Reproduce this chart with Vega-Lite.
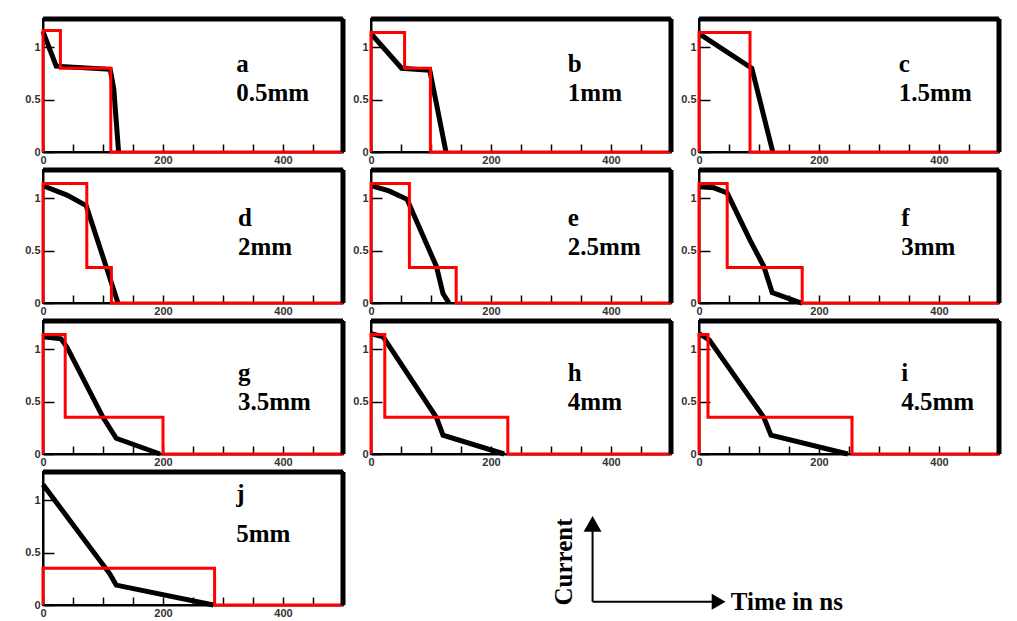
{
  "$schema": "https://vega.github.io/schema/vega-lite/v6.json",
  "background": "white",
  "padding": {"left": 20, "top": 15, "right": 0, "bottom": 0},
  "config": {
    "view": {"stroke": "black", "strokeWidth": 2},
    "axis": {"domainColor": "black", "domainWidth": 2, "tickColor": "black", "tickWidth": 1.5, "grid": false, "labelFont": "Liberation Sans", "labelFontSize": 11, "labelFontWeight": "bold", "labelColor": "#333", "labelFlush": false, "labelOverlap": false, "labelBound": false, "title": null},
    "axisX": {"values": [0, 50, 100, 150, 200, 250, 300, 350, 400, 450, 500], "labelExpr": "datum.value === 0 || datum.value === 200 || datum.value === 400 ? datum.label : ''", "tickSize": -8, "labelPadding": 10, "minExtent": 9, "maxExtent": 9, "encode": {"ticks": {"update": {"y2": {"signal": "datum.value % 200 === 0 ? -14 : -8"}}}}},
    "axisY": {"values": [0, 0.1, 0.2, 0.3, 0.4, 0.5, 0.6, 0.7, 0.8, 0.9, 1, 1.1, 1.2], "labelExpr": "datum.value === 0 ? '0' : datum.value === 0.5 ? '0.5' : datum.value === 1 ? '1' : ''", "tickSize": -11, "labelPadding": 14, "minExtent": 20, "maxExtent": 20, "encode": {"ticks": {"update": {"x2": {"signal": "(datum.value === 0 || datum.value === 0.5 || datum.value === 1) ? 22 : 11"}}}}}
  },
  "datasets": {
    "labels": [
      {"panel": "a", "letter": "a", "thickness": "0.5mm"},
      {"panel": "b", "letter": "b", "thickness": "1mm"},
      {"panel": "c", "letter": "c", "thickness": "1.5mm"},
      {"panel": "d", "letter": "d", "thickness": "2mm"},
      {"panel": "e", "letter": "e", "thickness": "2.5mm"},
      {"panel": "f", "letter": "f", "thickness": "3mm"},
      {"panel": "g", "letter": "g", "thickness": "3.5mm"},
      {"panel": "h", "letter": "h", "thickness": "4mm"},
      {"panel": "i", "letter": "i", "thickness": "4.5mm"},
      {"panel": "j", "letter": "j", "thickness": "5mm"}
    ],
    "curves": [
      {"panel": "a", "series": "signal", "i": 0, "time": 0, "current": 1.15},
      {"panel": "a", "series": "signal", "i": 1, "time": 22, "current": 0.82},
      {"panel": "a", "series": "signal", "i": 2, "time": 112, "current": 0.79},
      {"panel": "a", "series": "signal", "i": 3, "time": 118, "current": 0.6},
      {"panel": "a", "series": "signal", "i": 4, "time": 126, "current": 0},
      {"panel": "a", "series": "step", "i": 0, "time": 0, "current": 0},
      {"panel": "a", "series": "step", "i": 1, "time": 0, "current": 1.16},
      {"panel": "a", "series": "step", "i": 2, "time": 29, "current": 1.16},
      {"panel": "a", "series": "step", "i": 3, "time": 29, "current": 0.8},
      {"panel": "a", "series": "step", "i": 4, "time": 113, "current": 0.8},
      {"panel": "a", "series": "step", "i": 5, "time": 113, "current": 0},
      {"panel": "a", "series": "step", "i": 6, "time": 500, "current": 0},

      {"panel": "b", "series": "signal", "i": 0, "time": 0, "current": 1.13},
      {"panel": "b", "series": "signal", "i": 1, "time": 51, "current": 0.8},
      {"panel": "b", "series": "signal", "i": 2, "time": 98, "current": 0.78},
      {"panel": "b", "series": "signal", "i": 3, "time": 125, "current": 0},
      {"panel": "b", "series": "step", "i": 0, "time": 0, "current": 0},
      {"panel": "b", "series": "step", "i": 1, "time": 0, "current": 1.14},
      {"panel": "b", "series": "step", "i": 2, "time": 56, "current": 1.14},
      {"panel": "b", "series": "step", "i": 3, "time": 56, "current": 0.8},
      {"panel": "b", "series": "step", "i": 4, "time": 99, "current": 0.8},
      {"panel": "b", "series": "step", "i": 5, "time": 99, "current": 0},
      {"panel": "b", "series": "step", "i": 6, "time": 500, "current": 0},

      {"panel": "c", "series": "signal", "i": 0, "time": 0, "current": 1.13},
      {"panel": "c", "series": "signal", "i": 1, "time": 88, "current": 0.8},
      {"panel": "c", "series": "signal", "i": 2, "time": 123, "current": 0},
      {"panel": "c", "series": "step", "i": 0, "time": 0, "current": 0},
      {"panel": "c", "series": "step", "i": 1, "time": 0, "current": 1.14},
      {"panel": "c", "series": "step", "i": 2, "time": 85, "current": 1.14},
      {"panel": "c", "series": "step", "i": 3, "time": 85, "current": 0},
      {"panel": "c", "series": "step", "i": 4, "time": 500, "current": 0},

      {"panel": "d", "series": "signal", "i": 0, "time": 0, "current": 1.12},
      {"panel": "d", "series": "signal", "i": 1, "time": 40, "current": 1.03},
      {"panel": "d", "series": "signal", "i": 2, "time": 72, "current": 0.93},
      {"panel": "d", "series": "signal", "i": 3, "time": 125, "current": 0},
      {"panel": "d", "series": "step", "i": 0, "time": 0, "current": 0},
      {"panel": "d", "series": "step", "i": 1, "time": 0, "current": 1.14},
      {"panel": "d", "series": "step", "i": 2, "time": 73, "current": 1.14},
      {"panel": "d", "series": "step", "i": 3, "time": 73, "current": 0.34},
      {"panel": "d", "series": "step", "i": 4, "time": 114, "current": 0.34},
      {"panel": "d", "series": "step", "i": 5, "time": 114, "current": 0},
      {"panel": "d", "series": "step", "i": 6, "time": 500, "current": 0},

      {"panel": "e", "series": "signal", "i": 0, "time": 0, "current": 1.12},
      {"panel": "e", "series": "signal", "i": 1, "time": 30, "current": 1.07},
      {"panel": "e", "series": "signal", "i": 2, "time": 60, "current": 0.99},
      {"panel": "e", "series": "signal", "i": 3, "time": 109, "current": 0.35},
      {"panel": "e", "series": "signal", "i": 4, "time": 120, "current": 0.09},
      {"panel": "e", "series": "signal", "i": 5, "time": 130, "current": 0},
      {"panel": "e", "series": "step", "i": 0, "time": 0, "current": 0},
      {"panel": "e", "series": "step", "i": 1, "time": 0, "current": 1.14},
      {"panel": "e", "series": "step", "i": 2, "time": 64, "current": 1.14},
      {"panel": "e", "series": "step", "i": 3, "time": 64, "current": 0.34},
      {"panel": "e", "series": "step", "i": 4, "time": 142, "current": 0.34},
      {"panel": "e", "series": "step", "i": 5, "time": 142, "current": 0},
      {"panel": "e", "series": "step", "i": 6, "time": 500, "current": 0},

      {"panel": "f", "series": "signal", "i": 0, "time": 0, "current": 1.11},
      {"panel": "f", "series": "signal", "i": 1, "time": 25, "current": 1.1},
      {"panel": "f", "series": "signal", "i": 2, "time": 47, "current": 1.05},
      {"panel": "f", "series": "signal", "i": 3, "time": 85, "current": 0.6},
      {"panel": "f", "series": "signal", "i": 4, "time": 108, "current": 0.35},
      {"panel": "f", "series": "signal", "i": 5, "time": 122, "current": 0.1},
      {"panel": "f", "series": "signal", "i": 6, "time": 165, "current": 0.01},
      {"panel": "f", "series": "signal", "i": 7, "time": 172, "current": 0},
      {"panel": "f", "series": "step", "i": 0, "time": 0, "current": 0},
      {"panel": "f", "series": "step", "i": 1, "time": 0, "current": 1.14},
      {"panel": "f", "series": "step", "i": 2, "time": 47, "current": 1.14},
      {"panel": "f", "series": "step", "i": 3, "time": 47, "current": 0.34},
      {"panel": "f", "series": "step", "i": 4, "time": 172, "current": 0.34},
      {"panel": "f", "series": "step", "i": 5, "time": 172, "current": 0},
      {"panel": "f", "series": "step", "i": 6, "time": 500, "current": 0},

      {"panel": "g", "series": "signal", "i": 0, "time": 0, "current": 1.12},
      {"panel": "g", "series": "signal", "i": 1, "time": 30, "current": 1.1},
      {"panel": "g", "series": "signal", "i": 2, "time": 40, "current": 1.02},
      {"panel": "g", "series": "signal", "i": 3, "time": 100, "current": 0.35},
      {"panel": "g", "series": "signal", "i": 4, "time": 122, "current": 0.15},
      {"panel": "g", "series": "signal", "i": 5, "time": 195, "current": 0},
      {"panel": "g", "series": "step", "i": 0, "time": 0, "current": 0},
      {"panel": "g", "series": "step", "i": 1, "time": 0, "current": 1.14},
      {"panel": "g", "series": "step", "i": 2, "time": 37, "current": 1.14},
      {"panel": "g", "series": "step", "i": 3, "time": 37, "current": 0.35},
      {"panel": "g", "series": "step", "i": 4, "time": 200, "current": 0.35},
      {"panel": "g", "series": "step", "i": 5, "time": 200, "current": 0},
      {"panel": "g", "series": "step", "i": 6, "time": 500, "current": 0},

      {"panel": "h", "series": "signal", "i": 0, "time": 0, "current": 1.15},
      {"panel": "h", "series": "signal", "i": 1, "time": 20, "current": 1.12},
      {"panel": "h", "series": "signal", "i": 2, "time": 109, "current": 0.35},
      {"panel": "h", "series": "signal", "i": 3, "time": 120, "current": 0.18},
      {"panel": "h", "series": "signal", "i": 4, "time": 222, "current": 0},
      {"panel": "h", "series": "step", "i": 0, "time": 0, "current": 0},
      {"panel": "h", "series": "step", "i": 1, "time": 0, "current": 1.14},
      {"panel": "h", "series": "step", "i": 2, "time": 23, "current": 1.14},
      {"panel": "h", "series": "step", "i": 3, "time": 23, "current": 0.35},
      {"panel": "h", "series": "step", "i": 4, "time": 228, "current": 0.35},
      {"panel": "h", "series": "step", "i": 5, "time": 228, "current": 0},
      {"panel": "h", "series": "step", "i": 6, "time": 500, "current": 0},

      {"panel": "i", "series": "signal", "i": 0, "time": 0, "current": 1.15},
      {"panel": "i", "series": "signal", "i": 1, "time": 17, "current": 1.09},
      {"panel": "i", "series": "signal", "i": 2, "time": 108, "current": 0.35},
      {"panel": "i", "series": "signal", "i": 3, "time": 120, "current": 0.18},
      {"panel": "i", "series": "signal", "i": 4, "time": 248, "current": 0},
      {"panel": "i", "series": "step", "i": 0, "time": 0, "current": 0},
      {"panel": "i", "series": "step", "i": 1, "time": 0, "current": 1.14},
      {"panel": "i", "series": "step", "i": 2, "time": 15, "current": 1.14},
      {"panel": "i", "series": "step", "i": 3, "time": 15, "current": 0.35},
      {"panel": "i", "series": "step", "i": 4, "time": 255, "current": 0.35},
      {"panel": "i", "series": "step", "i": 5, "time": 255, "current": 0},
      {"panel": "i", "series": "step", "i": 6, "time": 500, "current": 0},

      {"panel": "j", "series": "signal", "i": 0, "time": 0, "current": 1.15},
      {"panel": "j", "series": "signal", "i": 1, "time": 111, "current": 0.3},
      {"panel": "j", "series": "signal", "i": 2, "time": 122, "current": 0.19},
      {"panel": "j", "series": "signal", "i": 3, "time": 284, "current": 0},
      {"panel": "j", "series": "step", "i": 0, "time": 0, "current": 0},
      {"panel": "j", "series": "step", "i": 1, "time": 0, "current": 0.35},
      {"panel": "j", "series": "step", "i": 2, "time": 286, "current": 0.35},
      {"panel": "j", "series": "step", "i": 3, "time": 286, "current": 0},
      {"panel": "j", "series": "step", "i": 4, "time": 500, "current": 0}
    ]
  },
  "spacing": 0,
  "vconcat": [
    {"spacing": 0, "hconcat": [
      {"width": 300, "height": 133, "layer": [
        {"data": {"name": "curves"}, "transform": [{"filter": "datum.panel === 'a' && datum.series === 'signal'"}], "mark": {"type": "line", "color": "black", "strokeWidth": 5}, "encoding": {"x": {"field": "time", "type": "quantitative", "scale": {"domain": [0, 500], "nice": false}}, "y": {"field": "current", "type": "quantitative", "scale": {"domain": [0, 1.27], "nice": false}, "axis": {"minExtent": 22, "maxExtent": 22}}, "order": {"field": "i", "type": "quantitative"}}},
        {"data": {"name": "curves"}, "transform": [{"filter": "datum.panel === 'a' && datum.series === 'step'"}], "mark": {"type": "line", "color": "#ff0000", "strokeWidth": 3}, "encoding": {"x": {"field": "time", "type": "quantitative"}, "y": {"field": "current", "type": "quantitative"}, "order": {"field": "i", "type": "quantitative"}}},
        {"data": {"values": [{}]}, "mark": {"type": "rule", "color": "black", "strokeWidth": 5}, "encoding": {"y": {"datum": 1.27}}},
        {"data": {"values": [{}]}, "mark": {"type": "rule", "color": "black", "strokeWidth": 5}, "encoding": {"x": {"datum": 500}}},
        {"data": {"name": "labels"}, "transform": [{"filter": "datum.panel === 'a'"}], "mark": {"type": "text", "font": "Liberation Serif", "fontWeight": "bold", "fontSize": 25, "align": "left", "baseline": "alphabetic", "color": "black"}, "encoding": {"x": {"datum": 322}, "y": {"datum": 0.76}, "text": {"field": "letter"}}},
        {"data": {"name": "labels"}, "transform": [{"filter": "datum.panel === 'a'"}], "mark": {"type": "text", "font": "Liberation Serif", "fontWeight": "bold", "fontSize": 25, "align": "left", "baseline": "alphabetic", "color": "black"}, "encoding": {"x": {"datum": 322}, "y": {"datum": 0.49}, "text": {"field": "thickness"}}}
      ]},
      {"width": 300, "height": 133, "layer": [
        {"data": {"name": "curves"}, "transform": [{"filter": "datum.panel === 'b' && datum.series === 'signal'"}], "mark": {"type": "line", "color": "black", "strokeWidth": 5}, "encoding": {"x": {"field": "time", "type": "quantitative", "scale": {"domain": [0, 500], "nice": false}}, "y": {"field": "current", "type": "quantitative", "scale": {"domain": [0, 1.27], "nice": false}}, "order": {"field": "i", "type": "quantitative"}}},
        {"data": {"name": "curves"}, "transform": [{"filter": "datum.panel === 'b' && datum.series === 'step'"}], "mark": {"type": "line", "color": "#ff0000", "strokeWidth": 3}, "encoding": {"x": {"field": "time", "type": "quantitative"}, "y": {"field": "current", "type": "quantitative"}, "order": {"field": "i", "type": "quantitative"}}},
        {"data": {"values": [{}]}, "mark": {"type": "rule", "color": "black", "strokeWidth": 5}, "encoding": {"y": {"datum": 1.27}}},
        {"data": {"values": [{}]}, "mark": {"type": "rule", "color": "black", "strokeWidth": 5}, "encoding": {"x": {"datum": 500}}},
        {"data": {"name": "labels"}, "transform": [{"filter": "datum.panel === 'b'"}], "mark": {"type": "text", "font": "Liberation Serif", "fontWeight": "bold", "fontSize": 25, "align": "left", "baseline": "alphabetic", "color": "black"}, "encoding": {"x": {"datum": 328}, "y": {"datum": 0.76}, "text": {"field": "letter"}}},
        {"data": {"name": "labels"}, "transform": [{"filter": "datum.panel === 'b'"}], "mark": {"type": "text", "font": "Liberation Serif", "fontWeight": "bold", "fontSize": 25, "align": "left", "baseline": "alphabetic", "color": "black"}, "encoding": {"x": {"datum": 328}, "y": {"datum": 0.49}, "text": {"field": "thickness"}}}
      ]},
      {"width": 300, "height": 133, "layer": [
        {"data": {"name": "curves"}, "transform": [{"filter": "datum.panel === 'c' && datum.series === 'signal'"}], "mark": {"type": "line", "color": "black", "strokeWidth": 5}, "encoding": {"x": {"field": "time", "type": "quantitative", "scale": {"domain": [0, 500], "nice": false}}, "y": {"field": "current", "type": "quantitative", "scale": {"domain": [0, 1.27], "nice": false}}, "order": {"field": "i", "type": "quantitative"}}},
        {"data": {"name": "curves"}, "transform": [{"filter": "datum.panel === 'c' && datum.series === 'step'"}], "mark": {"type": "line", "color": "#ff0000", "strokeWidth": 3}, "encoding": {"x": {"field": "time", "type": "quantitative"}, "y": {"field": "current", "type": "quantitative"}, "order": {"field": "i", "type": "quantitative"}}},
        {"data": {"values": [{}]}, "mark": {"type": "rule", "color": "black", "strokeWidth": 5}, "encoding": {"y": {"datum": 1.27}}},
        {"data": {"values": [{}]}, "mark": {"type": "rule", "color": "black", "strokeWidth": 5}, "encoding": {"x": {"datum": 500}}},
        {"data": {"name": "labels"}, "transform": [{"filter": "datum.panel === 'c'"}], "mark": {"type": "text", "font": "Liberation Serif", "fontWeight": "bold", "fontSize": 25, "align": "left", "baseline": "alphabetic", "color": "black"}, "encoding": {"x": {"datum": 333}, "y": {"datum": 0.76}, "text": {"field": "letter"}}},
        {"data": {"name": "labels"}, "transform": [{"filter": "datum.panel === 'c'"}], "mark": {"type": "text", "font": "Liberation Serif", "fontWeight": "bold", "fontSize": 25, "align": "left", "baseline": "alphabetic", "color": "black"}, "encoding": {"x": {"datum": 333}, "y": {"datum": 0.49}, "text": {"field": "thickness"}}}
      ]}
    ]},
    {"spacing": 0, "hconcat": [
      {"width": 300, "height": 133, "layer": [
        {"data": {"name": "curves"}, "transform": [{"filter": "datum.panel === 'd' && datum.series === 'signal'"}], "mark": {"type": "line", "color": "black", "strokeWidth": 5}, "encoding": {"x": {"field": "time", "type": "quantitative", "scale": {"domain": [0, 500], "nice": false}}, "y": {"field": "current", "type": "quantitative", "scale": {"domain": [0, 1.27], "nice": false}, "axis": {"minExtent": 22, "maxExtent": 22}}, "order": {"field": "i", "type": "quantitative"}}},
        {"data": {"name": "curves"}, "transform": [{"filter": "datum.panel === 'd' && datum.series === 'step'"}], "mark": {"type": "line", "color": "#ff0000", "strokeWidth": 3}, "encoding": {"x": {"field": "time", "type": "quantitative"}, "y": {"field": "current", "type": "quantitative"}, "order": {"field": "i", "type": "quantitative"}}},
        {"data": {"values": [{}]}, "mark": {"type": "rule", "color": "black", "strokeWidth": 5}, "encoding": {"y": {"datum": 1.27}}},
        {"data": {"values": [{}]}, "mark": {"type": "rule", "color": "black", "strokeWidth": 5}, "encoding": {"x": {"datum": 500}}},
        {"data": {"name": "labels"}, "transform": [{"filter": "datum.panel === 'd'"}], "mark": {"type": "text", "font": "Liberation Serif", "fontWeight": "bold", "fontSize": 25, "align": "left", "baseline": "alphabetic", "color": "black"}, "encoding": {"x": {"datum": 325}, "y": {"datum": 0.74}, "text": {"field": "letter"}}},
        {"data": {"name": "labels"}, "transform": [{"filter": "datum.panel === 'd'"}], "mark": {"type": "text", "font": "Liberation Serif", "fontWeight": "bold", "fontSize": 25, "align": "left", "baseline": "alphabetic", "color": "black"}, "encoding": {"x": {"datum": 325}, "y": {"datum": 0.46}, "text": {"field": "thickness"}}}
      ]},
      {"width": 300, "height": 133, "layer": [
        {"data": {"name": "curves"}, "transform": [{"filter": "datum.panel === 'e' && datum.series === 'signal'"}], "mark": {"type": "line", "color": "black", "strokeWidth": 5}, "encoding": {"x": {"field": "time", "type": "quantitative", "scale": {"domain": [0, 500], "nice": false}}, "y": {"field": "current", "type": "quantitative", "scale": {"domain": [0, 1.27], "nice": false}}, "order": {"field": "i", "type": "quantitative"}}},
        {"data": {"name": "curves"}, "transform": [{"filter": "datum.panel === 'e' && datum.series === 'step'"}], "mark": {"type": "line", "color": "#ff0000", "strokeWidth": 3}, "encoding": {"x": {"field": "time", "type": "quantitative"}, "y": {"field": "current", "type": "quantitative"}, "order": {"field": "i", "type": "quantitative"}}},
        {"data": {"values": [{}]}, "mark": {"type": "rule", "color": "black", "strokeWidth": 5}, "encoding": {"y": {"datum": 1.27}}},
        {"data": {"values": [{}]}, "mark": {"type": "rule", "color": "black", "strokeWidth": 5}, "encoding": {"x": {"datum": 500}}},
        {"data": {"name": "labels"}, "transform": [{"filter": "datum.panel === 'e'"}], "mark": {"type": "text", "font": "Liberation Serif", "fontWeight": "bold", "fontSize": 25, "align": "left", "baseline": "alphabetic", "color": "black"}, "encoding": {"x": {"datum": 328}, "y": {"datum": 0.74}, "text": {"field": "letter"}}},
        {"data": {"name": "labels"}, "transform": [{"filter": "datum.panel === 'e'"}], "mark": {"type": "text", "font": "Liberation Serif", "fontWeight": "bold", "fontSize": 25, "align": "left", "baseline": "alphabetic", "color": "black"}, "encoding": {"x": {"datum": 328}, "y": {"datum": 0.46}, "text": {"field": "thickness"}}}
      ]},
      {"width": 300, "height": 133, "layer": [
        {"data": {"name": "curves"}, "transform": [{"filter": "datum.panel === 'f' && datum.series === 'signal'"}], "mark": {"type": "line", "color": "black", "strokeWidth": 5}, "encoding": {"x": {"field": "time", "type": "quantitative", "scale": {"domain": [0, 500], "nice": false}}, "y": {"field": "current", "type": "quantitative", "scale": {"domain": [0, 1.27], "nice": false}}, "order": {"field": "i", "type": "quantitative"}}},
        {"data": {"name": "curves"}, "transform": [{"filter": "datum.panel === 'f' && datum.series === 'step'"}], "mark": {"type": "line", "color": "#ff0000", "strokeWidth": 3}, "encoding": {"x": {"field": "time", "type": "quantitative"}, "y": {"field": "current", "type": "quantitative"}, "order": {"field": "i", "type": "quantitative"}}},
        {"data": {"values": [{}]}, "mark": {"type": "rule", "color": "black", "strokeWidth": 5}, "encoding": {"y": {"datum": 1.27}}},
        {"data": {"values": [{}]}, "mark": {"type": "rule", "color": "black", "strokeWidth": 5}, "encoding": {"x": {"datum": 500}}},
        {"data": {"name": "labels"}, "transform": [{"filter": "datum.panel === 'f'"}], "mark": {"type": "text", "font": "Liberation Serif", "fontWeight": "bold", "fontSize": 25, "align": "left", "baseline": "alphabetic", "color": "black"}, "encoding": {"x": {"datum": 337}, "y": {"datum": 0.74}, "text": {"field": "letter"}}},
        {"data": {"name": "labels"}, "transform": [{"filter": "datum.panel === 'f'"}], "mark": {"type": "text", "font": "Liberation Serif", "fontWeight": "bold", "fontSize": 25, "align": "left", "baseline": "alphabetic", "color": "black"}, "encoding": {"x": {"datum": 337}, "y": {"datum": 0.46}, "text": {"field": "thickness"}}}
      ]}
    ]},
    {"spacing": 0, "hconcat": [
      {"width": 300, "height": 133, "layer": [
        {"data": {"name": "curves"}, "transform": [{"filter": "datum.panel === 'g' && datum.series === 'signal'"}], "mark": {"type": "line", "color": "black", "strokeWidth": 5}, "encoding": {"x": {"field": "time", "type": "quantitative", "scale": {"domain": [0, 500], "nice": false}}, "y": {"field": "current", "type": "quantitative", "scale": {"domain": [0, 1.27], "nice": false}, "axis": {"minExtent": 22, "maxExtent": 22}}, "order": {"field": "i", "type": "quantitative"}}},
        {"data": {"name": "curves"}, "transform": [{"filter": "datum.panel === 'g' && datum.series === 'step'"}], "mark": {"type": "line", "color": "#ff0000", "strokeWidth": 3}, "encoding": {"x": {"field": "time", "type": "quantitative"}, "y": {"field": "current", "type": "quantitative"}, "order": {"field": "i", "type": "quantitative"}}},
        {"data": {"values": [{}]}, "mark": {"type": "rule", "color": "black", "strokeWidth": 5}, "encoding": {"y": {"datum": 1.27}}},
        {"data": {"values": [{}]}, "mark": {"type": "rule", "color": "black", "strokeWidth": 5}, "encoding": {"x": {"datum": 500}}},
        {"data": {"name": "labels"}, "transform": [{"filter": "datum.panel === 'g'"}], "mark": {"type": "text", "font": "Liberation Serif", "fontWeight": "bold", "fontSize": 25, "align": "left", "baseline": "alphabetic", "color": "black"}, "encoding": {"x": {"datum": 325}, "y": {"datum": 0.7}, "text": {"field": "letter"}}},
        {"data": {"name": "labels"}, "transform": [{"filter": "datum.panel === 'g'"}], "mark": {"type": "text", "font": "Liberation Serif", "fontWeight": "bold", "fontSize": 25, "align": "left", "baseline": "alphabetic", "color": "black"}, "encoding": {"x": {"datum": 325}, "y": {"datum": 0.42}, "text": {"field": "thickness"}}}
      ]},
      {"width": 300, "height": 133, "layer": [
        {"data": {"name": "curves"}, "transform": [{"filter": "datum.panel === 'h' && datum.series === 'signal'"}], "mark": {"type": "line", "color": "black", "strokeWidth": 5}, "encoding": {"x": {"field": "time", "type": "quantitative", "scale": {"domain": [0, 500], "nice": false}}, "y": {"field": "current", "type": "quantitative", "scale": {"domain": [0, 1.27], "nice": false}}, "order": {"field": "i", "type": "quantitative"}}},
        {"data": {"name": "curves"}, "transform": [{"filter": "datum.panel === 'h' && datum.series === 'step'"}], "mark": {"type": "line", "color": "#ff0000", "strokeWidth": 3}, "encoding": {"x": {"field": "time", "type": "quantitative"}, "y": {"field": "current", "type": "quantitative"}, "order": {"field": "i", "type": "quantitative"}}},
        {"data": {"values": [{}]}, "mark": {"type": "rule", "color": "black", "strokeWidth": 5}, "encoding": {"y": {"datum": 1.27}}},
        {"data": {"values": [{}]}, "mark": {"type": "rule", "color": "black", "strokeWidth": 5}, "encoding": {"x": {"datum": 500}}},
        {"data": {"name": "labels"}, "transform": [{"filter": "datum.panel === 'h'"}], "mark": {"type": "text", "font": "Liberation Serif", "fontWeight": "bold", "fontSize": 25, "align": "left", "baseline": "alphabetic", "color": "black"}, "encoding": {"x": {"datum": 328}, "y": {"datum": 0.7}, "text": {"field": "letter"}}},
        {"data": {"name": "labels"}, "transform": [{"filter": "datum.panel === 'h'"}], "mark": {"type": "text", "font": "Liberation Serif", "fontWeight": "bold", "fontSize": 25, "align": "left", "baseline": "alphabetic", "color": "black"}, "encoding": {"x": {"datum": 328}, "y": {"datum": 0.42}, "text": {"field": "thickness"}}}
      ]},
      {"width": 300, "height": 133, "layer": [
        {"data": {"name": "curves"}, "transform": [{"filter": "datum.panel === 'i' && datum.series === 'signal'"}], "mark": {"type": "line", "color": "black", "strokeWidth": 5}, "encoding": {"x": {"field": "time", "type": "quantitative", "scale": {"domain": [0, 500], "nice": false}}, "y": {"field": "current", "type": "quantitative", "scale": {"domain": [0, 1.27], "nice": false}}, "order": {"field": "i", "type": "quantitative"}}},
        {"data": {"name": "curves"}, "transform": [{"filter": "datum.panel === 'i' && datum.series === 'step'"}], "mark": {"type": "line", "color": "#ff0000", "strokeWidth": 3}, "encoding": {"x": {"field": "time", "type": "quantitative"}, "y": {"field": "current", "type": "quantitative"}, "order": {"field": "i", "type": "quantitative"}}},
        {"data": {"values": [{}]}, "mark": {"type": "rule", "color": "black", "strokeWidth": 5}, "encoding": {"y": {"datum": 1.27}}},
        {"data": {"values": [{}]}, "mark": {"type": "rule", "color": "black", "strokeWidth": 5}, "encoding": {"x": {"datum": 500}}},
        {"data": {"name": "labels"}, "transform": [{"filter": "datum.panel === 'i'"}], "mark": {"type": "text", "font": "Liberation Serif", "fontWeight": "bold", "fontSize": 25, "align": "left", "baseline": "alphabetic", "color": "black"}, "encoding": {"x": {"datum": 337}, "y": {"datum": 0.7}, "text": {"field": "letter"}}},
        {"data": {"name": "labels"}, "transform": [{"filter": "datum.panel === 'i'"}], "mark": {"type": "text", "font": "Liberation Serif", "fontWeight": "bold", "fontSize": 25, "align": "left", "baseline": "alphabetic", "color": "black"}, "encoding": {"x": {"datum": 337}, "y": {"datum": 0.42}, "text": {"field": "thickness"}}}
      ]}
    ]},
    {"spacing": 0, "hconcat": [
      {"width": 300, "height": 133, "layer": [
        {"data": {"name": "curves"}, "transform": [{"filter": "datum.panel === 'j' && datum.series === 'signal'"}], "mark": {"type": "line", "color": "black", "strokeWidth": 5}, "encoding": {"x": {"field": "time", "type": "quantitative", "scale": {"domain": [0, 500], "nice": false}}, "y": {"field": "current", "type": "quantitative", "scale": {"domain": [0, 1.27], "nice": false}, "axis": {"minExtent": 22, "maxExtent": 22}}, "order": {"field": "i", "type": "quantitative"}}},
        {"data": {"name": "curves"}, "transform": [{"filter": "datum.panel === 'j' && datum.series === 'step'"}], "mark": {"type": "line", "color": "#ff0000", "strokeWidth": 3}, "encoding": {"x": {"field": "time", "type": "quantitative"}, "y": {"field": "current", "type": "quantitative"}, "order": {"field": "i", "type": "quantitative"}}},
        {"data": {"values": [{}]}, "mark": {"type": "rule", "color": "black", "strokeWidth": 5}, "encoding": {"y": {"datum": 1.27}}},
        {"data": {"values": [{}]}, "mark": {"type": "rule", "color": "black", "strokeWidth": 5}, "encoding": {"x": {"datum": 500}}},
        {"data": {"name": "labels"}, "transform": [{"filter": "datum.panel === 'j'"}], "mark": {"type": "text", "font": "Liberation Serif", "fontWeight": "bold", "fontSize": 25, "align": "left", "baseline": "alphabetic", "color": "black"}, "encoding": {"x": {"datum": 322}, "y": {"datum": 0.98}, "text": {"field": "letter"}}},
        {"data": {"name": "labels"}, "transform": [{"filter": "datum.panel === 'j'"}], "mark": {"type": "text", "font": "Liberation Serif", "fontWeight": "bold", "fontSize": 25, "align": "left", "baseline": "alphabetic", "color": "black"}, "encoding": {"x": {"datum": 322}, "y": {"datum": 0.6}, "text": {"field": "thickness"}}}
      ]},
      {"width": 640, "height": 133, "view": {"stroke": null}, "data": {"values": [{}]}, "layer": [
        {"mark": {"type": "rule", "color": "black", "strokeWidth": 2}, "encoding": {"x": {"datum": 37.9, "type": "quantitative", "scale": {"domain": [0, 100], "nice": false}, "axis": null}, "y": {"datum": 0.25, "type": "quantitative", "scale": {"domain": [0, 10], "nice": false}, "axis": null}, "y2": {"datum": 6.1}}},
        {"mark": {"type": "rule", "color": "black", "strokeWidth": 2}, "encoding": {"x": {"datum": 37.9, "type": "quantitative", "axis": null}, "x2": {"datum": 57.6}, "y": {"datum": 0.25, "type": "quantitative", "axis": null}}},
        {"mark": {"type": "point", "shape": "triangle-up", "filled": true, "color": "black", "size": 324, "opacity": 1}, "encoding": {"x": {"datum": 37.9, "type": "quantitative", "axis": null}, "y": {"datum": 6.1, "type": "quantitative", "axis": null}}},
        {"mark": {"type": "point", "shape": "triangle-right", "filled": true, "color": "black", "size": 256, "opacity": 1}, "encoding": {"x": {"datum": 57.6, "type": "quantitative", "axis": null}, "y": {"datum": 0.25, "type": "quantitative", "axis": null}}},
        {"mark": {"type": "text", "text": "Current", "angle": 270, "font": "Liberation Serif", "fontWeight": "bold", "fontSize": 25, "align": "center", "baseline": "middle", "color": "black"}, "encoding": {"x": {"datum": 33.4, "type": "quantitative", "axis": null}, "y": {"datum": 3.23, "type": "quantitative", "axis": null}}},
        {"mark": {"type": "text", "text": "Time in ns", "font": "Liberation Serif", "fontWeight": "bold", "fontSize": 25, "align": "left", "baseline": "alphabetic", "color": "black"}, "encoding": {"x": {"datum": 59.5, "type": "quantitative", "axis": null}, "y": {"datum": -0.38, "type": "quantitative", "axis": null}}}
      ]}
    ]}
  ]
}
